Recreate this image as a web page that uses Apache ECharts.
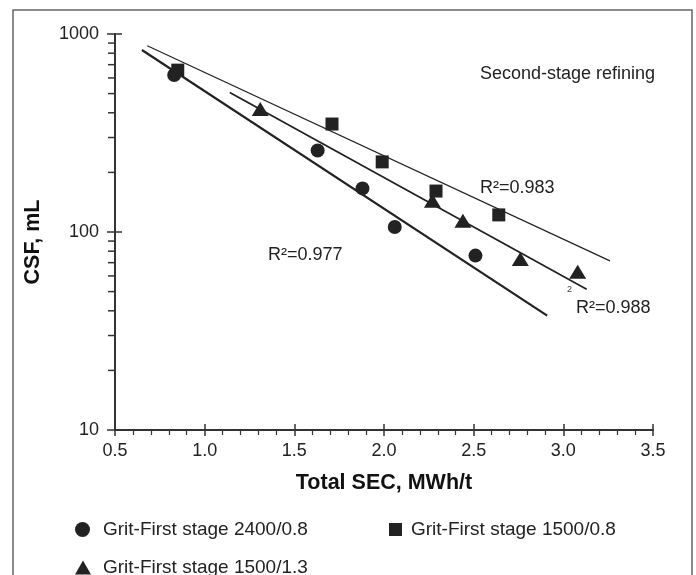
<!DOCTYPE html>
<html>
<head>
<meta charset="utf-8">
<script src="https://cdn.jsdelivr.net/npm/echarts@6/dist/echarts.min.js"></script>
<style>
  html, body { margin: 0; padding: 0; background: #fff; }
  #chart { width: 696px; height: 575px; }
</style>
</head>
<body>
<div id="chart"></div>
<script>
  // points: [Total SEC (MWh/t), CSF (mL)]
  var grit2400_08 = [[0.83, 621], [1.63, 258], [1.88, 166], [2.06, 106], [2.51, 76]];
  var grit1500_08 = [[0.85, 657], [1.71, 351], [1.99, 226], [2.29, 161], [2.64, 122]];
  var grit1500_13 = [[1.31, 418], [2.27, 144], [2.44, 114], [2.76, 73], [3.08, 63]];

  // regression lines, end points
  var fit2400_08 = [[0.65, 830], [2.91, 37.8]];
  var fit1500_08 = [[0.68, 873], [3.26, 71.5]];
  var fit1500_13 = [[1.14, 506], [3.13, 51.4]];

  var seriesNames = ['Grit-First stage 2400/0.8', 'Grit-First stage 1500/0.8', 'Grit-First stage 1500/1.3'];
  var xMin = 0.5, xMax = 3.5, xStep = 0.5;
  var yMin = 10, yMax = 1000;
  // log minor ticks on the CSF axis
  var yMinorTicks = [20, 30, 40, 50, 60, 70, 80, 90, 200, 300, 400, 500, 600, 700, 800, 900];

  var ink = '#222';
  var font = '"Liberation Sans", Arial, sans-serif';

  var myChart = echarts.init(document.getElementById('chart'));

  function fitLine(data, width) {
    return {
      type: 'line', data: data, showSymbol: false, silent: true, z: 1,
      lineStyle: { color: ink, width: width }
    };
  }

  function legendText(padLeft) {
    return { fontSize: 19, color: ink, fontFamily: font, padding: [0, 0, 0, padLeft] };
  }

  myChart.setOption({
    animation: false,
    backgroundColor: '#fff',
    textStyle: { fontFamily: font },
    grid: { left: 115, right: 43, top: 34, bottom: 145 },
    xAxis: [{
      type: 'value', min: xMin, max: xMax, interval: xStep,
      name: 'Total SEC, MWh/t', nameLocation: 'middle', nameGap: 42,
      nameTextStyle: { fontSize: 21.5, fontWeight: 'bold', color: '#111', fontFamily: font },
      axisLine: { lineStyle: { color: '#333', width: 2 } },
      axisTick: { length: 6, lineStyle: { color: '#333', width: 1.5 } },
      minorTick: { show: true, splitNumber: 5, length: 5, lineStyle: { color: '#333', width: 1.2 } },
      splitLine: { show: false },
      axisLabel: { fontSize: 18, color: ink, margin: 12, formatter: function (v) { return v.toFixed(1); } }
    }, {
      type: 'value', min: xMin, max: xMax, interval: xStep, position: 'bottom',
      axisLine: { show: false },
      axisTick: { inside: true, length: 6, lineStyle: { color: '#333', width: 1.5 } },
      axisLabel: { show: false }, splitLine: { show: false }
    }],
    yAxis: [{
      type: 'log', logBase: 10, min: yMin, max: yMax,
      name: 'CSF, mL', nameLocation: 'middle', nameGap: 71,
      nameTextStyle: { fontSize: 21.5, fontWeight: 'bold', color: '#111', fontFamily: font, padding: [0, 20, 0, 0] },
      axisLine: { lineStyle: { color: '#333', width: 2 } },
      axisTick: { length: 8, lineStyle: { color: '#333', width: 1.5 } },
      splitLine: { show: false },
      axisLabel: { fontSize: 18, color: ink, margin: 16, formatter: function (v) { return String(Math.round(v)); } }
    }, {
      type: 'log', logBase: 10, min: yMin, max: yMax, position: 'left',
      axisLine: { show: false },
      axisTick: { inside: true, length: 7, lineStyle: { color: '#333', width: 1.5 } },
      axisLabel: { show: false }, splitLine: { show: false }
    }],
    legend: [
      { data: [seriesNames[0]], left: 70, top: 515, itemWidth: 15, itemHeight: 15, icon: 'circle',
        textStyle: legendText(8) },
      { data: [seriesNames[1]], left: 384, top: 515, itemWidth: 13, itemHeight: 13, icon: 'rect',
        textStyle: legendText(4) },
      { data: [seriesNames[2]], left: 70, top: 553, itemWidth: 16, itemHeight: 14, icon: 'triangle',
        textStyle: legendText(7) }
    ],
    graphic: [
      { type: 'rect', shape: { x: 13, y: 10, width: 679, height: 640 }, silent: true,
        style: { fill: 'none', stroke: '#666', lineWidth: 1.5 } },
      { type: 'text', left: 480, top: 65, style: { text: 'Second-stage refining', font: '18px ' + font, fill: ink } },
      { type: 'text', left: 480, top: 179, style: { text: 'R²=0.983', font: '18px ' + font, fill: ink } },
      { type: 'text', left: 268, top: 246, style: { text: 'R²=0.977', font: '18px ' + font, fill: ink } },
      { type: 'text', left: 576, top: 299, style: { text: 'R²=0.988', font: '18px ' + font, fill: ink } },
      { type: 'text', left: 567, top: 285, style: { text: '2', font: '9px ' + font, fill: '#444' } }
    ],
    series: [
      fitLine(fit2400_08, 2.2),
      fitLine(fit1500_08, 1.2),
      fitLine(fit1500_13, 1.8),
      {
        name: seriesNames[0], type: 'scatter', data: grit2400_08, z: 3,
        symbol: 'circle', symbolSize: 14, itemStyle: { color: ink, opacity: 1 }
      },
      {
        name: seriesNames[1], type: 'scatter', data: grit1500_08, z: 3,
        symbol: 'rect', symbolSize: 13, itemStyle: { color: ink, opacity: 1 }
      },
      {
        name: seriesNames[2], type: 'scatter', data: grit1500_13, z: 3,
        symbol: 'triangle', symbolSize: [17, 14], itemStyle: { color: ink, opacity: 1 }
      },
      {
        // minor ticks of the log axis, drawn at the axis through the library's scale
        type: 'custom', silent: true, clip: false, z: 2,
        data: yMinorTicks.map(function (v) { return [xMin, v]; }),
        renderItem: function (params, api) {
          var p = api.coord([api.value(0), api.value(1)]);
          return {
            type: 'line',
            shape: { x1: p[0] - 7, y1: p[1], x2: p[0], y2: p[1] },
            style: { stroke: '#333', lineWidth: 1.5 }
          };
        }
      }
    ]
  });
</script>
</body>
</html>
